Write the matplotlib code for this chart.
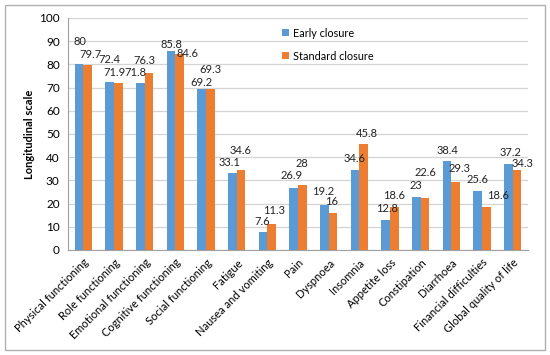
import numpy as np
import matplotlib
matplotlib.use("Agg")
import matplotlib.pyplot as plt
from matplotlib.patches import Rectangle

plt.rcParams['font.family'] = ['Lato', 'DejaVu Sans']

categories = ['Physical functioning', 'Role functioning', 'Emotional functioning',
              'Cognitive functioning', 'Social functioning', 'Fatigue',
              'Nausea and vomiting', 'Pain', 'Dyspnoea', 'Insomnia', 'Appetite loss',
              'Constipation', 'Diarrhoea', 'Financial difficulties',
              'Global quality of life']
early = [80, 72.4, 71.8, 85.8, 69.2, 33.1, 7.6, 26.9, 19.2, 34.6, 12.8, 23, 38.4, 25.6, 37.2]
standard = [79.7, 71.9, 76.3, 84.6, 69.3, 34.6, 11.3, 28, 16, 45.8, 18.6, 22.6, 29.3, 18.6, 34.3]
early_txt = ['80', '72.4', '71.8', '85.8', '69.2', '33.1', '7.6', '26.9', '19.2', '34.6',
             '12.8', '23', '38.4', '25.6', '37.2']
standard_txt = ['79.7', '71.9', '76.3', '84.6', '69.3', '34.6', '11.3', '28', '16', '45.8',
                '18.6', '22.6', '29.3', '18.6', '34.3']

# label nudges (x in pixels, y in scale units) so labels sit like the original
early_dx = [1, 0, -5, 0, 0, -3, -1, -2, -1, 0, 1, 0, 0, 0, 2]
early_dy = [9.8, 9.9, 4.6, 2.8, 3.2, 4.8, 4.7, 5.0, 5.9, 5.0, 4.9, 5.0, 4.7, 4.9, 4.7]
std_dx = [3, -4, -5, 8, 0, 0, 2, 0, -1, 3, 0, 0, 4, 12, 6]
std_dy = [4.6, 4.5, 5.2, 0.0, 8.3, 8.1, 5.6, 9.1, 4.7, 4.6, 4.8, 10.7, 6.0, 4.7, 3.1]

blue = '#5B9BD5'
orange = '#ED7D31'

fig = plt.figure(figsize=(5.5, 3.55), dpi=100)
ax = fig.add_axes([68 / 550, 1 - 250 / 355, 460 / 550, 232 / 355])

x = np.arange(len(categories))
w = 0.28
ax.bar(x - w / 2, early, w, color=blue, label='Early closure', zorder=3)
ax.bar(x + w / 2, standard, w, color=orange, label='Standard closure', zorder=3)

px = 1 / 30.67  # one pixel in category units
for i in range(len(categories)):
    ax.text(x[i] - w / 2 + early_dx[i] * px, early[i] + early_dy[i], early_txt[i],
            ha='center', va='center', fontsize=8, color='#222222', zorder=4)
    ax.text(x[i] + w / 2 + std_dx[i] * px, standard[i] + std_dy[i], standard_txt[i],
            ha='center', va='center', fontsize=8, color='#222222', zorder=4)

ax.set_xlim(-0.5, len(categories) - 0.5)
ax.set_ylim(0, 100)
ax.set_yticks(np.arange(0, 101, 10))
ax.set_xticks(x)
ax.set_xticklabels(categories, rotation=45, ha='right', rotation_mode='anchor',
                   fontsize=8)
ax.tick_params(axis='y', length=0, labelsize=8.5, pad=6)
ax.tick_params(axis='x', length=0, pad=5)
ax.grid(axis='y', color='#d4d4d4', linewidth=0.9, zorder=0)
ax.set_axisbelow(True)
for s in ['top', 'right']:
    ax.spines[s].set_visible(False)
ax.spines['left'].set_color('#a0a0a0')
ax.spines['bottom'].set_color('#a0a0a0')
ax.set_ylabel('Longitudinal scale', fontsize=8, fontweight='bold', labelpad=3)

ax.legend(loc='upper left', bbox_to_anchor=(0.445, 1.0), frameon=False,
          fontsize=7.8, handlelength=0.6, handleheight=0.6, handletextpad=0.4,
          labelspacing=1.1)

fig.patches.append(Rectangle((5 / 550, 5 / 355), 540 / 550, 345 / 355,
                             transform=fig.transFigure, fill=False,
                             edgecolor='#b0b0b0', linewidth=1))

fig.savefig('out.png', dpi=100)
